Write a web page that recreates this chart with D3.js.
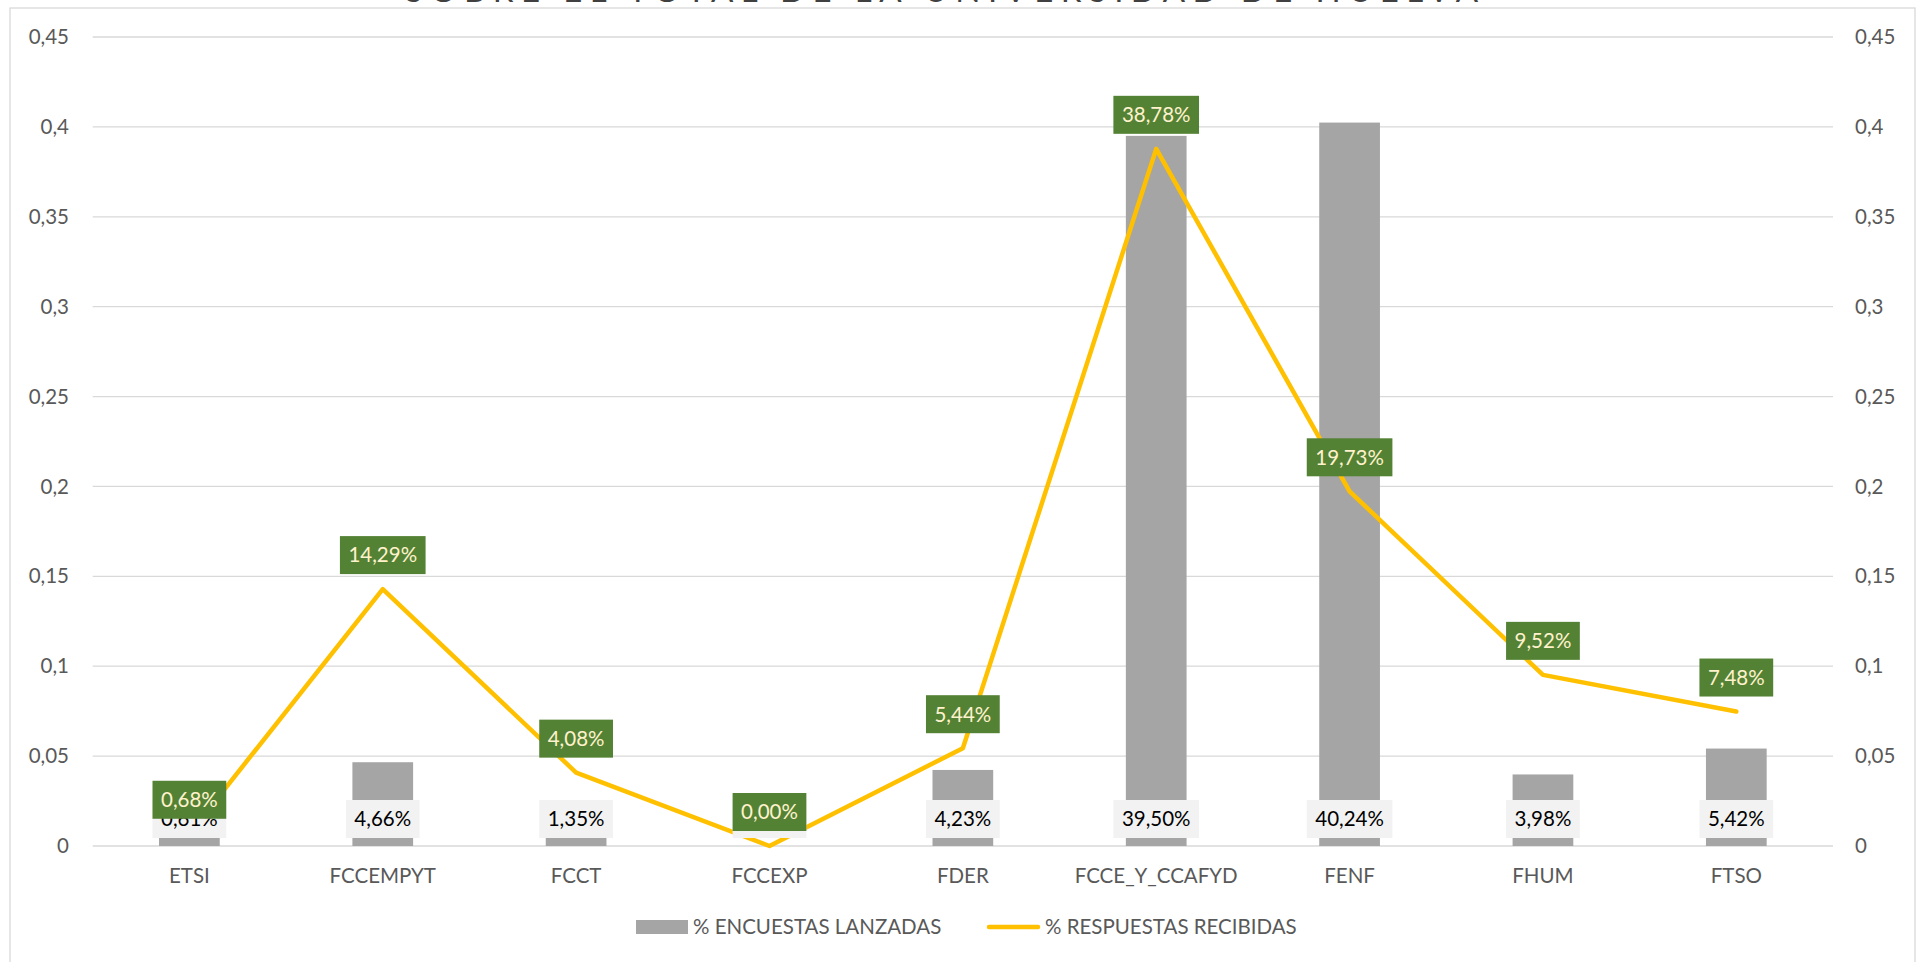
<!DOCTYPE html>
<html>
<head>
<meta charset="utf-8">
<script src="https://cdn.jsdelivr.net/npm/d3@7"></script>
<style>
  html, body { margin: 0; padding: 0; background: #ffffff; overflow: hidden; }
  svg { display: block; font-family: Lato, "Open Sans", sans-serif; }
</style>
</head>
<body>
<svg id="chart" width="1923" height="962"></svg>
<script>
// ---- data ----
const categories = ["ETSI", "FCCEMPYT", "FCCT", "FCCEXP", "FDER", "FCCE_Y_CCAFYD", "FENF", "FHUM", "FTSO"];
const encuestasLanzadas = [0.0061, 0.0466, 0.0135, 0.0000, 0.0423, 0.3950, 0.4024, 0.0398, 0.0542];
const respuestasRecibidas = [0.0068, 0.1429, 0.0408, 0.0000, 0.0544, 0.3878, 0.1973, 0.0952, 0.0748];
const tickValues = [0, 0.05, 0.1, 0.15, 0.2, 0.25, 0.3, 0.35, 0.4, 0.45];
const tickLabels = ["0", "0,05", "0,1", "0,15", "0,2", "0,25", "0,3", "0,35", "0,4", "0,45"];
const seriesNames = ["% ENCUESTAS LANZADAS", "% RESPUESTAS RECIBIDAS"];
const titleText = "SOBRE EL TOTAL DE LA UNIVERSIDAD DE HUELVA";

// ---- styles ----
const barColor = "#A5A5A5";
const lineColor = "#FFC000";
const gridColor = "#D9D9D9";
const axisTextColor = "#595959";
const greenLabel = "#548235";
const greenText = "#FFF2CC";
const grayLabel = "#F2F2F2";
const fontSize = 20.5;

const svg = d3.select("#chart");

// chart border
svg.append("rect")
  .attr("x", 10).attr("y", 8)
  .attr("width", 1905).attr("height", 1000)
  .attr("fill", "#ffffff")
  .attr("stroke", gridColor).attr("stroke-width", 1.3);

// title (clipped by the top of the window)
svg.append("text")
  .attr("x", 405).attr("y", 2)
  .attr("textLength", 1073).attr("lengthAdjust", "spacing")
  .attr("font-size", 33)
  .attr("fill", "#404040")
  .text(titleText);

const plotLeft = 92.7, plotRight = 1833, plotTop = 37, plotBottom = 846;

const x = d3.scaleBand().domain(categories).range([plotLeft, plotRight]).padding(0);
const y = d3.scaleLinear().domain([0, 0.45]).range([plotBottom, plotTop]);
const y2 = d3.scaleLinear().domain([0, 0.45]).range([plotBottom, plotTop]);

const barW = x.bandwidth() * 0.314;
const labelFmt = v => d3.format(".2%")(v).replace(".", ",");

// gridlines
svg.append("g")
  .selectAll("line")
  .data(tickValues)
  .join("line")
  .attr("x1", plotLeft).attr("x2", plotRight)
  .attr("y1", d => y(d)).attr("y2", d => y(d))
  .attr("stroke", gridColor).attr("stroke-width", 1.3);

// left axis
const leftAxis = d3.axisLeft(y).tickValues(tickValues)
  .tickFormat((d, i) => tickLabels[i]).tickSize(0).tickPadding(0);
const gl = svg.append("g").attr("transform", `translate(69,0)`).call(leftAxis);
gl.select(".domain").remove();
gl.selectAll("text").attr("font-size", fontSize).attr("fill", axisTextColor)
  .attr("font-family", "Lato, sans-serif");

// right axis
const rightAxis = d3.axisRight(y2).tickValues(tickValues)
  .tickFormat((d, i) => tickLabels[i]).tickSize(0).tickPadding(0);
const gr = svg.append("g").attr("transform", `translate(1855,0)`).call(rightAxis);
gr.select(".domain").remove();
gr.selectAll("text").attr("font-size", fontSize).attr("fill", axisTextColor)
  .attr("font-family", "Lato, sans-serif");

// x axis labels
const xAxis = d3.axisBottom(x).tickSize(0).tickPadding(0);
const gx = svg.append("g").attr("transform", `translate(0,${plotBottom + 22})`).call(xAxis);
gx.select(".domain").remove();
gx.selectAll("text").attr("font-size", fontSize).attr("fill", axisTextColor)
  .attr("font-family", "Lato, sans-serif");

// bars
svg.append("g")
  .selectAll("rect")
  .data(categories)
  .join("rect")
  .attr("x", d => x(d) + (x.bandwidth() - barW) / 2)
  .attr("width", barW)
  .attr("y", (d, i) => y(encuestasLanzadas[i]))
  .attr("height", (d, i) => y(0) - y(encuestasLanzadas[i]))
  .attr("fill", barColor);

// line
const line = d3.line()
  .x((d, i) => x(categories[i]) + x.bandwidth() / 2)
  .y(d => y2(d));
svg.append("path")
  .datum(respuestasRecibidas)
  .attr("d", line)
  .attr("fill", "none")
  .attr("stroke", lineColor)
  .attr("stroke-width", 4.5)
  .attr("stroke-linejoin", "round")
  .attr("stroke-linecap", "round");

// label helper
function boxLabel(g, cx, bottom, text, fill, textFill) {
  const grp = g.append("g");
  const rect = grp.append("rect").attr("fill", fill);
  const t = grp.append("text")
    .attr("x", cx).attr("text-anchor", "middle")
    .attr("font-size", fontSize)
    .attr("fill", textFill)
    .text(text);
  const w = t.node().getComputedTextLength() + 17;
  const h = 38;
  rect.attr("x", cx - w / 2).attr("y", bottom - h).attr("width", w).attr("height", h);
  t.attr("y", bottom - h / 2 + fontSize * 0.36);
}

// gray bar labels (inside base)
const gBar = svg.append("g");
categories.forEach((c, i) => {
  boxLabel(gBar, x(c) + x.bandwidth() / 2, y(0) - 8, labelFmt(encuestasLanzadas[i]), grayLabel, "#000000");
});

// green line labels (above)
const gLine = svg.append("g");
categories.forEach((c, i) => {
  boxLabel(gLine, x(c) + x.bandwidth() / 2, y2(respuestasRecibidas[i]) - 15, labelFmt(respuestasRecibidas[i]), greenLabel, greenText);
});

// legend
const lg = svg.append("g");
lg.append("rect").attr("x", 636).attr("y", 920).attr("width", 52).attr("height", 14).attr("fill", barColor);
lg.append("text").attr("x", 693).attr("y", 934).attr("font-size", fontSize).attr("fill", axisTextColor).text(seriesNames[0]);
lg.append("line").attr("x1", 989).attr("x2", 1038).attr("y1", 927).attr("y2", 927)
  .attr("stroke", lineColor).attr("stroke-width", 4.5).attr("stroke-linecap", "round");
lg.append("text").attr("x", 1045).attr("y", 934).attr("font-size", fontSize).attr("fill", axisTextColor).text(seriesNames[1]);
</script>
</body>
</html>
